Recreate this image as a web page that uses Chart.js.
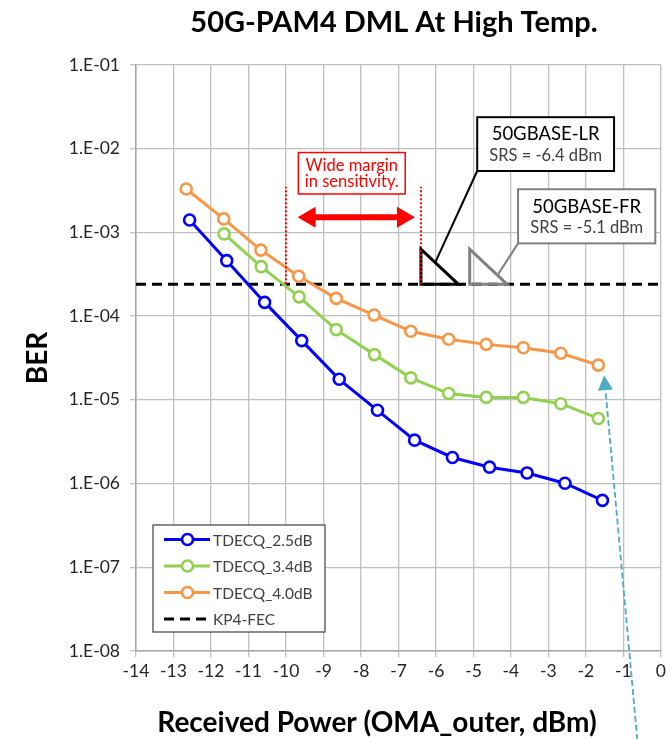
<!DOCTYPE html>
<html>
<head>
<meta charset="utf-8">
<title>50G-PAM4 DML At High Temp.</title>
<script src="https://cdn.jsdelivr.net/npm/chart.js@4.4.1/dist/chart.umd.min.js"></script>
<style>
  html, body { margin: 0; padding: 0; background: #ffffff; }
  #wrap { width: 670px; height: 739px; }
</style>
</head>
<body>
<div id="wrap"><canvas id="c" width="670" height="739"></canvas></div>
<script>
// ---- data ----
const chartTitle = '50G-PAM4 DML At High Temp.';
const xAxisTitle = 'Received Power (OMA_outer, dBm)';
const yAxisTitle = 'BER';

const xTickValues = [-14, -13, -12, -11, -10, -9, -8, -7, -6, -5, -4, -3, -2, -1, 0];
const yDecadeExponents = [-8, -7, -6, -5, -4, -3, -2, -1];

const seriesNames = ['TDECQ_2.5dB', 'TDECQ_3.4dB', 'TDECQ_4.0dB', 'KP4-FEC'];

const powerTdecq25 = [-12.57, -11.58, -10.57, -9.58, -8.58, -7.56, -6.57, -5.56, -4.57, -3.57, -2.56, -1.56];
const berTdecq25   = [1.41e-3, 4.6e-4, 1.46e-4, 5.1e-5, 1.76e-5, 7.5e-6, 3.3e-6, 2.05e-6, 1.57e-6, 1.34e-6, 1.01e-6, 6.3e-7];

const powerTdecq34 = [-11.65, -10.66, -9.65, -8.66, -7.64, -6.67, -5.66, -4.66, -3.67, -2.67, -1.67];
const berTdecq34   = [9.6e-4, 3.9e-4, 1.7e-4, 6.9e-5, 3.47e-5, 1.83e-5, 1.19e-5, 1.07e-5, 1.07e-5, 9.0e-6, 6.0e-6];

const powerTdecq40 = [-12.66, -11.66, -10.67, -9.66, -8.66, -7.65, -6.67, -5.66, -4.66, -3.67, -2.67, -1.67];
const berTdecq40   = [3.3e-3, 1.45e-3, 6.15e-4, 3.0e-4, 1.63e-4, 1.03e-4, 6.6e-5, 5.3e-5, 4.6e-5, 4.2e-5, 3.6e-5, 2.6e-5];

const kp4FecPower = [-14, 0];
const kp4FecBer   = [2.4e-4, 2.4e-4];

// sensitivity marks (dBm)
const srsLR = -6.4;
const srsFR = -5.1;
const marginLeft = -10.0;

const marginText = ['Wide margin', 'in sensitivity.'];
const lrText = ['50GBASE-LR', 'SRS = -6.4 dBm'];
const frText = ['50GBASE-FR', 'SRS = -5.1 dBm'];

// ---- helpers ----
const FONT = 'Lato, "Liberation Sans", sans-serif';
const pts = (xs, ys) => xs.map((x, i) => ({ x: x, y: ys[i] }));
const colors = { blue: '#0000FF', green: '#92D050', orange: '#F79646' };

function lineSet(label, xs, ys, color) {
  return {
    label: label,
    data: pts(xs, ys),
    borderColor: color,
    backgroundColor: color,
    borderWidth: 3,
    pointRadius: 5.5,
    pointHoverRadius: 5.5,
    pointBorderWidth: 2.6,
    pointBorderColor: color,
    pointBackgroundColor: '#ffffff',
    tension: 0,
    clip: false
  };
}

// annotations, legend and titles drawn on top of the plot
const overlay = {
  id: 'overlay',
  afterDatasetsDraw(chart) {
    const ctx = chart.ctx;
    const xs = chart.scales.x, ys = chart.scales.y;
    const px = v => xs.getPixelForValue(v);
    const py = v => ys.getPixelForValue(v);
    const fec = kp4FecBer[0];
    ctx.save();

    // red dotted sensitivity bounds
    ctx.strokeStyle = '#FF0000';
    ctx.lineWidth = 2;
    ctx.setLineDash([2, 2]);
    [marginLeft, srsLR].forEach(v => {
      ctx.beginPath();
      ctx.moveTo(px(v), py(fec));
      ctx.lineTo(px(v), py(3.5e-3));
      ctx.stroke();
    });
    ctx.setLineDash([]);

    // red double arrow
    {
      const x1 = px(-9.69), x2 = px(-6.56), y = py(1.52e-3);
      const hl = 18, hh = 10.5, sh = 3;
      ctx.fillStyle = '#FF0000';
      ctx.beginPath();
      ctx.moveTo(x1, y);
      ctx.lineTo(x1 + hl, y - hh);
      ctx.lineTo(x1 + hl, y - sh);
      ctx.lineTo(x2 - hl, y - sh);
      ctx.lineTo(x2 - hl, y - hh);
      ctx.lineTo(x2, y);
      ctx.lineTo(x2 - hl, y + hh);
      ctx.lineTo(x2 - hl, y + sh);
      ctx.lineTo(x1 + hl, y + sh);
      ctx.lineTo(x1 + hl, y + hh);
      ctx.closePath();
      ctx.fill();
    }

    // boxed labels
    function box(xl, xr, yt, yb, border, lw, lines, fonts, colorsT) {
      const l = px(xl), r = px(xr), t = py(yt), b = py(yb);
      ctx.fillStyle = '#ffffff';
      ctx.fillRect(l, t, r - l, b - t);
      ctx.strokeStyle = border;
      ctx.lineWidth = lw;
      ctx.strokeRect(l, t, r - l, b - t);
      ctx.textAlign = 'center';
      ctx.textBaseline = 'middle';
      const cx = (l + r) / 2;
      const h = b - t;
      lines.forEach((s, i) => {
        ctx.font = fonts[i];
        ctx.fillStyle = colorsT[i];
        ctx.fillText(s, cx, t + h * (i === 0 ? 0.32 : 0.71));
      });
    }
    box(-9.67, -6.82, 9.0e-3, 2.88e-3, '#FF0000', 1.5, marginText,
        ['16.5px ' + FONT, '16.5px ' + FONT], ['#FF0000', '#FF0000']);

    // leader lines
    ctx.lineWidth = 2;
    ctx.strokeStyle = '#000000';
    ctx.beginPath();
    ctx.moveTo(px(-4.90), py(5.42e-3));
    ctx.lineTo(px(-6.03), py(4.27e-4));
    ctx.stroke();
    ctx.strokeStyle = '#808080';
    ctx.beginPath();
    ctx.moveTo(px(-3.81), py(7.4e-4));
    ctx.lineTo(px(-4.37), py(3.03e-4));
    ctx.stroke();

    box(-4.90, -1.25, 2.38e-2, 5.42e-3, '#000000', 2, lrText,
        ['18.5px ' + FONT, '16.5px ' + FONT], ['#000000', '#404040']);
    box(-3.81, -0.15, 3.28e-3, 7.4e-4, '#808080', 2, frText,
        ['18.5px ' + FONT, '16.5px ' + FONT], ['#000000', '#404040']);

    // sensitivity triangles
    function tri(x0, color) {
      ctx.strokeStyle = color;
      ctx.lineWidth = 3;
      ctx.lineJoin = 'miter';
      ctx.beginPath();
      ctx.moveTo(px(x0), py(6.3e-4));
      ctx.lineTo(px(x0), py(fec));
      ctx.lineTo(px(x0 + 1), py(fec));
      ctx.closePath();
      ctx.stroke();
    }
    tri(srsLR, '#000000');
    tri(srsFR, '#808080');

    // red dotted line over the black triangle leg
    ctx.strokeStyle = '#FF0000';
    ctx.lineWidth = 2;
    ctx.setLineDash([2, 2]);
    ctx.beginPath();
    ctx.moveTo(px(srsLR), py(fec));
    ctx.lineTo(px(srsLR), py(6.3e-4));
    ctx.stroke();
    ctx.setLineDash([]);

    // blue dashed pointer arrow
    {
      const tx = px(-1.515), ty = py(1.97e-5);
      const bx = px(-0.63), by = py(8.7e-10);
      const ang = Math.atan2(ty - by, tx - bx);
      const hl = 15, hw = 7.5;
      const hx = tx - hl * Math.cos(ang), hy = ty - hl * Math.sin(ang);
      ctx.strokeStyle = '#4BACC6';
      ctx.lineWidth = 1.8;
      ctx.setLineDash([6, 3]);
      ctx.beginPath();
      ctx.moveTo(bx, by);
      ctx.lineTo(hx, hy);
      ctx.stroke();
      ctx.setLineDash([]);
      ctx.fillStyle = '#4BACC6';
      ctx.beginPath();
      ctx.moveTo(tx, ty);
      ctx.lineTo(hx + hw * Math.sin(ang), hy - hw * Math.cos(ang));
      ctx.lineTo(hx - hw * Math.sin(ang), hy + hw * Math.cos(ang));
      ctx.closePath();
      ctx.fill();
    }

    // legend box
    {
      const l = 153, t = 525, w = 172, h = 107;
      ctx.fillStyle = '#ffffff';
      ctx.fillRect(l, t, w, h);
      ctx.strokeStyle = '#404040';
      ctx.lineWidth = 1.2;
      ctx.strokeRect(l, t, w, h);
      const rows = [539.5, 566, 592.5, 619];
      const sets = chart.data.datasets;
      ctx.font = '15.5px ' + FONT;
      ctx.textAlign = 'left';
      ctx.textBaseline = 'middle';
      sets.forEach((ds, i) => {
        const y = rows[i];
        ctx.strokeStyle = ds.borderColor;
        ctx.lineWidth = 3;
        ctx.setLineDash(ds.borderDash || []);
        ctx.beginPath();
        ctx.moveTo(164, y);
        ctx.lineTo(210, y);
        ctx.stroke();
        ctx.setLineDash([]);
        if (ds.pointRadius > 0) {
          ctx.fillStyle = '#ffffff';
          ctx.lineWidth = 2.6;
          ctx.beginPath();
          ctx.arc(187.5, y, 5.5, 0, Math.PI * 2);
          ctx.fill();
          ctx.stroke();
        }
        ctx.fillStyle = '#404040';
        ctx.fillText(ds.label, 213, y + 1);
      });
    }

    // chart title and x-axis title
    ctx.fillStyle = '#000000';
    ctx.textAlign = 'center';
    ctx.textBaseline = 'middle';
    ctx.font = 'bold 29px ' + FONT;
    ctx.fillText(chartTitle, 394, 23);
    ctx.font = 'bold 28px ' + FONT;
    ctx.fillText(xAxisTitle, 377, 723);

    ctx.restore();
  }
};

const ctxEl = document.getElementById('c');
new Chart(ctxEl, {
  type: 'line',
  data: {
    datasets: [
      lineSet(seriesNames[0], powerTdecq25, berTdecq25, colors.blue),
      lineSet(seriesNames[1], powerTdecq34, berTdecq34, colors.green),
      lineSet(seriesNames[2], powerTdecq40, berTdecq40, colors.orange),
      {
        label: seriesNames[3],
        data: pts(kp4FecPower, kp4FecBer),
        borderColor: '#000000',
        borderWidth: 3,
        borderDash: [10, 6],
        pointRadius: 0,
        tension: 0
      }
    ]
  },
  options: {
    responsive: false,
    animation: false,
    devicePixelRatio: 1,
    layout: { padding: { left: 0, right: 6, top: 65, bottom: 0 } },
    plugins: {
      legend: { display: false },
      title: { display: false },
      tooltip: { enabled: false }
    },
    scales: {
      x: {
        type: 'linear',
        min: -14,
        max: 0,
        afterBuildTicks: s => { s.ticks = xTickValues.map(v => ({ value: v })); },
        afterFit: s => { s.height = 88; },
        ticks: {
          color: '#262626',
          font: { family: FONT, size: 17.5 },
          padding: 4,
          maxRotation: 0,
          autoSkip: false,
          callback: v => String(v)
        },
        grid: { color: '#bfbfbf', lineWidth: 1.3, tickLength: 6, tickColor: '#bfbfbf' },
        border: { display: true, color: '#a6a6a6', width: 1.5 }
      },
      y: {
        type: 'logarithmic',
        min: 1e-8,
        max: 1e-1,
        afterBuildTicks: s => { s.ticks = yDecadeExponents.map(e => ({ value: Math.pow(10, e), major: true })); },
        afterFit: s => { s.width = 136; },
        ticks: {
          color: '#262626',
          font: { family: FONT, size: 17.5 },
          padding: 10,
          autoSkip: false,
          callback: v => {
            const e = Math.round(Math.log10(v));
            return '1.E-' + String(-e).padStart(2, '0');
          }
        },
        grid: { color: '#bfbfbf', lineWidth: 1.3, tickLength: 6, tickColor: '#bfbfbf' },
        border: { display: true, color: '#a6a6a6', width: 1.5 },
        title: {
          display: true,
          text: yAxisTitle,
          color: '#000000',
          font: { family: FONT, size: 28, weight: 'bold' },
          padding: { top: 21, bottom: 0 }
        }
      }
    }
  },
  plugins: [overlay]
});
</script>
</body>
</html>
